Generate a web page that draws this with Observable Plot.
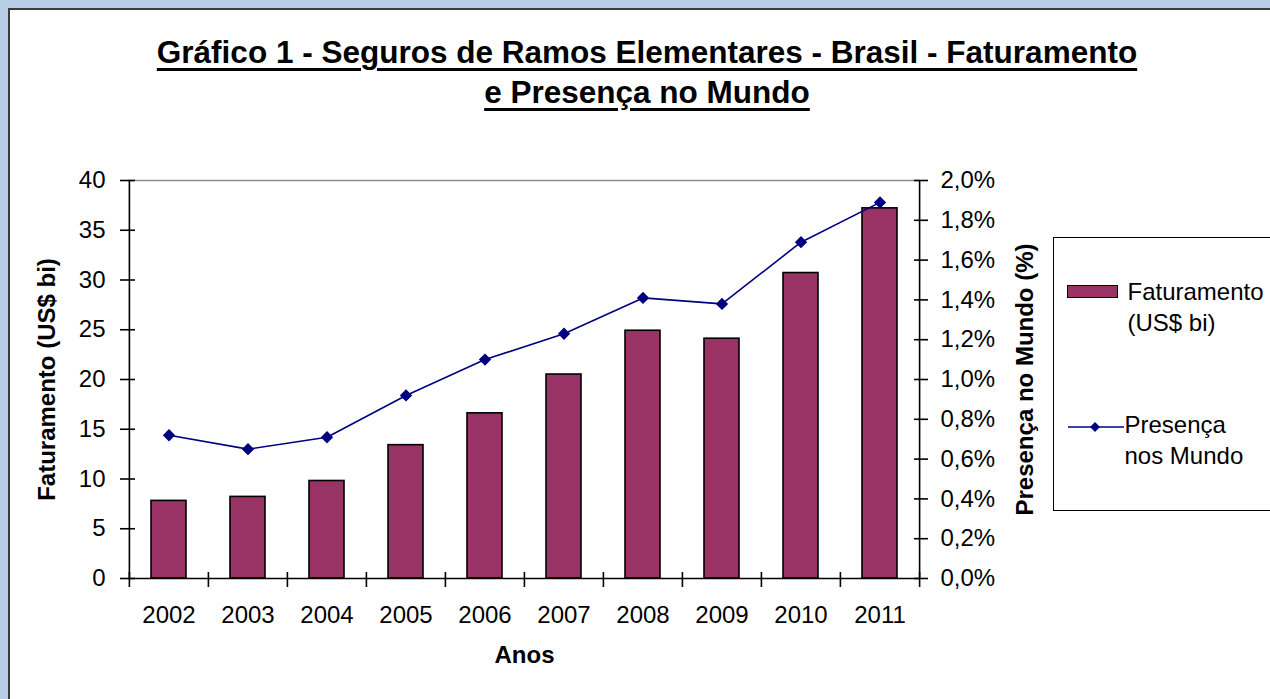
<!DOCTYPE html>
<html>
<head>
<meta charset="utf-8">
<script src="https://cdn.jsdelivr.net/npm/d3@7"></script>
<script src="https://cdn.jsdelivr.net/npm/@observablehq/plot@0.6"></script>
<style>
  html, body { margin: 0; padding: 0; width: 1270px; height: 699px; overflow: hidden; background: #B9CDE5; font-family: "Liberation Sans", Arial, sans-serif; }
  #frame { position: absolute; left: 8px; top: 8px; width: 1300px; height: 720px; background: #fff; border: 2px solid #3c3c3c; }
  #title { position: absolute; left: 0; top: 32px; width: 1294px; text-align: center; font-weight: bold; font-size: 31.5px; line-height: 40px; color: #000; }
  #title span { text-decoration: underline; text-decoration-thickness: 3px; text-underline-offset: 5px; }
  #chart { position: absolute; left: 0; top: 130px; }
  #legend { position: absolute; left: 1053px; top: 237px; width: 260px; height: 272px; border: 1.5px solid #000; background: #fff; }
  .lg { position: absolute; font-size: 24px; line-height: 31px; color: #000; white-space: nowrap; }
</style>
</head>
<body>
<div id="frame"></div>
<div id="title"><span>Gráfico 1 - Seguros de Ramos Elementares - Brasil - Faturamento</span><br><span>e Presença no Mundo</span></div>
<div id="chart"></div>
<div id="legend"></div>
<script>
// ---- data ----
const years = ["2002","2003","2004","2005","2006","2007","2008","2009","2010","2011"];
const faturamento = [7.8, 8.2, 9.8, 13.4, 16.6, 20.5, 24.9, 24.1, 30.7, 37.2];   // US$ bi
const presenca = [0.72, 0.65, 0.71, 0.92, 1.10, 1.23, 1.41, 1.38, 1.69, 1.89];    // % do mundo
const leftTicks = [0, 5, 10, 15, 20, 25, 30, 35, 40];
const rightTicks = [0, 0.2, 0.4, 0.6, 0.8, 1.0, 1.2, 1.4, 1.6, 1.8, 2.0];
const leftMax = 40, rightMax = 2.0;
const seriesNames = ["Faturamento (US$ bi)", "Presença nos Mundo"];

// ---- style constants ----
const barColor = "#993366";
const lineColor = "#000080";
const W = 1270, H = 569, mL = 128, mR = 350, mT = 50, mB = 121;
const step = (W - mL - mR) / years.length;
const half = step / 2;
const k = leftMax / rightMax;  // right-axis to left-axis scale factor

const data = years.map((y, i) => ({year: y, fat: faturamento[i], pres: presenca[i]}));
const font = "'Liberation Sans', Arial, sans-serif";

const chart = Plot.plot({
  width: W, height: H,
  marginLeft: mL, marginRight: mR, marginTop: mT, marginBottom: mB,
  style: {fontFamily: font, fontSize: "24px", color: "#000", background: "transparent", overflow: "visible"},
  x: {type: "band", domain: years, padding: 0, axis: null},
  y: {domain: [0, leftMax], axis: null},
  marks: [
    Plot.ruleY([leftMax], {stroke: "#8c8c8c", strokeWidth: 1.5}),
    Plot.barY(data, {x: "year", y: "fat", fill: barColor, stroke: "#000", strokeWidth: 1.6, insetLeft: 22, insetRight: 22}),
    Plot.line(data, {x: "year", y: d => d.pres * k, stroke: lineColor, strokeWidth: 1.6}),
    Plot.dot(data, {x: "year", y: d => d.pres * k, symbol: "diamond2", r: 4.6, fill: lineColor, stroke: lineColor}),
    // axis lines
    Plot.ruleY([0], {stroke: "#000", strokeWidth: 1.6}),
    Plot.ruleX([years[0]], {y1: 0, y2: leftMax, dx: -half, stroke: "#000", strokeWidth: 1.6}),
    Plot.ruleX([years[years.length - 1]], {y1: 0, y2: leftMax, dx: half, stroke: "#000", strokeWidth: 1.6}),
    // left axis
    Plot.axisY({anchor: "left", ticks: leftTicks, tickSize: 15, dx: 7, tickFormat: () => "", strokeWidth: 1.6, label: null}),
    Plot.axisY({anchor: "left", ticks: leftTicks, tickSize: 0, tickPadding: 23, fontSize: 24, label: null}),
    // right axis
    Plot.axisY({anchor: "right", ticks: rightTicks.map(t => t * k), tickSize: 14, dx: -7, tickFormat: () => "", strokeWidth: 1.6, label: null}),
    Plot.axisY({anchor: "right", ticks: rightTicks.map(t => t * k), tickSize: 0, tickPadding: 20, fontSize: 24, label: null,
      tickFormat: d => (d / k).toFixed(1).replace(".", ",") + "%"}),
    // x axis
    Plot.axisX({anchor: "bottom", tickSize: 15, dx: -half, dy: -6, tickFormat: () => "", strokeWidth: 1.6, label: null}),
    Plot.axisX({anchor: "bottom", ticks: [years[years.length - 1]], tickSize: 15, dx: half, dy: -6, tickFormat: () => "", strokeWidth: 1.6, label: null}),
    Plot.axisX({anchor: "bottom", tickSize: 0, tickPadding: 27, fontSize: 24, label: null}),
    // axis titles
    Plot.text(["Faturamento (US$ bi)"], {frameAnchor: "left", textAnchor: "middle", rotate: -90, dx: -81, fontWeight: "bold", fontSize: 24}),
    Plot.text(["Presença no Mundo (%)"], {frameAnchor: "right", textAnchor: "middle", rotate: -90, dx: 105, fontWeight: "bold", fontSize: 24}),
    Plot.text(["Anos"], {frameAnchor: "bottom", dy: 84, fontWeight: "bold", fontSize: 24})
  ]
});
document.getElementById("chart").appendChild(chart);

// ---- legend ----
const lg = document.getElementById("legend");
const L0 = 1053, T0 = 237;
function place(el, x, y) { el.style.left = (x - L0 - 1.5) + "px"; el.style.top = (y - T0 - 1.5) + "px"; lg.appendChild(el); }
const sw = document.createElement("div");
sw.style.cssText = `position:absolute;width:49px;height:11px;background:${barColor};border:1.6px solid #000;`;
place(sw, 1067, 285);
const t1 = document.createElement("div"); t1.className = "lg";
t1.innerHTML = "Faturamento<br>(US$ bi)";
place(t1, 1128, 276);
const svgNS = "http://www.w3.org/2000/svg";
const ls = document.createElementNS(svgNS, "svg");
ls.setAttribute("width", 60); ls.setAttribute("height", 16);
ls.style.position = "absolute";
ls.innerHTML = `<line x1="0" y1="8" x2="56" y2="8" stroke="${lineColor}" stroke-width="1.6"/><path d="M27,3L32,8L27,13L22,8Z" fill="${lineColor}"/>`;
place(ls, 1068, 419);
const t2 = document.createElement("div"); t2.className = "lg";
t2.innerHTML = "Presença<br>nos Mundo";
place(t2, 1125, 409);
</script>
</body>
</html>
